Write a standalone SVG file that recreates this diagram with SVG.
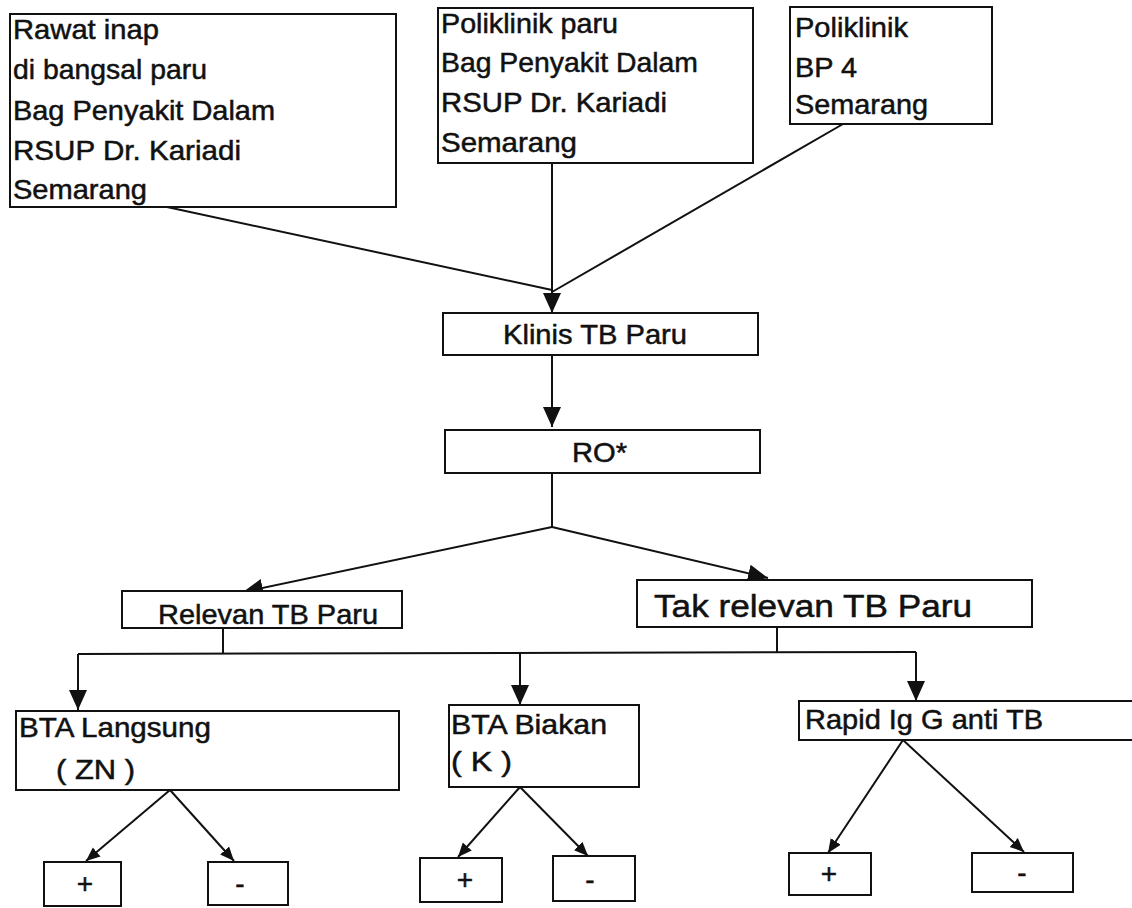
<svg xmlns="http://www.w3.org/2000/svg" width="1132" height="908" viewBox="0 0 1132 908">
<style>
.box{fill:#fff;stroke:#111;stroke-width:2}
.t{font-family:"Liberation Sans",Arial,sans-serif;font-size:28px;fill:#111;stroke:#111;stroke-width:0.5}
.c{text-anchor:middle}
.ln{fill:none;stroke:#111;stroke-width:2}
</style>
<defs>
<marker id="big" markerUnits="userSpaceOnUse" markerWidth="20" markerHeight="20" viewBox="0 0 20 20" refX="20" refY="10" orient="auto"><path d="M0,1 L20,10 L0,19 z" fill="#111"/></marker>
<marker id="sm" markerUnits="userSpaceOnUse" markerWidth="14" markerHeight="14" viewBox="0 0 14 14" refX="14" refY="7" orient="auto"><path d="M0,1 L14,7 L0,13 z" fill="#111"/></marker>
</defs>
<rect width="1132" height="908" fill="#fff"/>
<g id="connectors">
<path class="ln" d="M167,207 L552,290"/>
<path class="ln" d="M843,124 L552,292"/>
<path class="ln" d="M552,163 L552,313" marker-end="url(#big)"/>
<path class="ln" d="M552,355 L552,427" marker-end="url(#big)"/>
<path class="ln" d="M552,473 L552,527"/>
<path class="ln" d="M552,527 L243,592" marker-end="url(#big)"/>
<path class="ln" d="M552,527 L768,578" marker-end="url(#big)"/>
<path class="ln" d="M223,628 L223,653"/>
<path class="ln" d="M777,627 L777,653"/>
<path class="ln" d="M78,654 L916,652"/>
<path class="ln" d="M78,654 L78,710" marker-end="url(#big)"/>
<path class="ln" d="M520,653 L520,705" marker-end="url(#big)"/>
<path class="ln" d="M916,652 L916,701" marker-end="url(#big)"/>
<path class="ln" d="M170,790 L86,861" marker-end="url(#sm)"/>
<path class="ln" d="M170,790 L234,861" marker-end="url(#sm)"/>
<path class="ln" d="M520,787 L458,857" marker-end="url(#sm)"/>
<path class="ln" d="M520,787 L588,856" marker-end="url(#sm)"/>
<path class="ln" d="M903,740 L828,853" marker-end="url(#sm)"/>
<path class="ln" d="M903,740 L1024,852" marker-end="url(#sm)"/>
</g>
<g id="rawat-inap">
<rect class="box" x="10" y="14" width="386" height="193"/>
<text class="t" x="13" y="39" textLength="146" lengthAdjust="spacingAndGlyphs">Rawat inap</text>
<text class="t" x="13" y="79" textLength="194" lengthAdjust="spacingAndGlyphs">di bangsal paru</text>
<text class="t" x="13" y="120" textLength="262" lengthAdjust="spacingAndGlyphs">Bag Penyakit Dalam</text>
<text class="t" x="13" y="160" textLength="228" lengthAdjust="spacingAndGlyphs">RSUP Dr. Kariadi</text>
<text class="t" x="13" y="199" textLength="134" lengthAdjust="spacingAndGlyphs">Semarang</text>
</g>
<g id="poliklinik-paru">
<rect class="box" x="438" y="8" width="315" height="155"/>
<text class="t" x="441" y="33" textLength="177" lengthAdjust="spacingAndGlyphs">Poliklinik paru</text>
<text class="t" x="441" y="72" textLength="257" lengthAdjust="spacingAndGlyphs">Bag Penyakit Dalam</text>
<text class="t" x="441" y="112" textLength="226" lengthAdjust="spacingAndGlyphs">RSUP Dr. Kariadi</text>
<text class="t" x="441" y="152" textLength="136" lengthAdjust="spacingAndGlyphs">Semarang</text>
</g>
<g id="poliklinik-bp4">
<rect class="box" x="790" y="7" width="202" height="117"/>
<text class="t" x="795" y="37" textLength="113" lengthAdjust="spacingAndGlyphs">Poliklinik</text>
<text class="t" x="795" y="77" textLength="62" lengthAdjust="spacingAndGlyphs">BP 4</text>
<text class="t" x="795" y="114" textLength="133" lengthAdjust="spacingAndGlyphs">Semarang</text>
</g>
<g id="klinis">
<rect class="box" x="443" y="313" width="315" height="42"/>
<text class="t" x="503" y="344" textLength="184" lengthAdjust="spacingAndGlyphs">Klinis TB Paru</text>
</g>
<g id="ro">
<rect class="box" x="445" y="430" width="315" height="43"/>
<text class="t" x="572" y="462" textLength="55" lengthAdjust="spacingAndGlyphs">RO*</text>
</g>
<g id="relevan">
<rect class="box" x="122" y="591" width="280" height="37"/>
<text class="t" x="158" y="624" textLength="220" lengthAdjust="spacingAndGlyphs">Relevan TB Paru</text>
</g>
<g id="tak-relevan">
<rect class="box" x="637" y="580" width="395" height="47"/>
<text class="t" x="654" y="617" style="font-size:31px" textLength="318" lengthAdjust="spacingAndGlyphs">Tak relevan TB Paru</text>
</g>
<g id="bta-langsung">
<rect class="box" x="16" y="711" width="383" height="79"/>
<text class="t" x="19" y="737" textLength="192" lengthAdjust="spacingAndGlyphs">BTA Langsung</text>
<text class="t" x="56" y="779" textLength="79" lengthAdjust="spacingAndGlyphs">( ZN )</text>
</g>
<g id="bta-biakan">
<rect class="box" x="449" y="705" width="190" height="82"/>
<text class="t" x="451" y="734" textLength="156" lengthAdjust="spacingAndGlyphs">BTA Biakan</text>
<text class="t" x="451" y="771" textLength="61" lengthAdjust="spacingAndGlyphs">( K )</text>
</g>
<g id="rapid">
<rect class="box" x="799" y="701" width="340" height="39"/>
<text class="t" x="805" y="729" textLength="238" lengthAdjust="spacingAndGlyphs">Rapid Ig G anti TB</text>
</g>
<g id="bl-pos"><rect class="box" x="44" y="862" width="77" height="44"/><text class="t c" x="85" y="893">+</text></g>
<g id="bl-neg"><rect class="box" x="208" y="862" width="80" height="43"/><text class="t c" x="240" y="893">-</text></g>
<g id="bm-pos"><rect class="box" x="420" y="858" width="82" height="44"/><text class="t c" x="465" y="889">+</text></g>
<g id="bm-neg"><rect class="box" x="553" y="856" width="82" height="45"/><text class="t c" x="590" y="889">-</text></g>
<g id="br-pos"><rect class="box" x="789" y="853" width="82" height="42"/><text class="t c" x="829" y="883">+</text></g>
<g id="br-neg"><rect class="box" x="972" y="853" width="101" height="39"/><text class="t c" x="1022" y="882">-</text></g>
</svg>
